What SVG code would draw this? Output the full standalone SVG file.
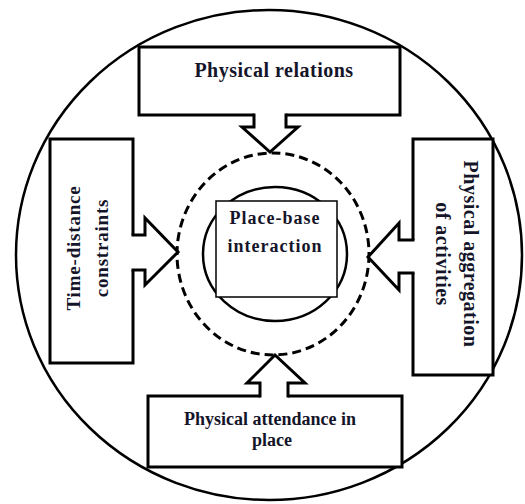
<svg xmlns="http://www.w3.org/2000/svg" width="525" height="504" viewBox="0 0 525 504">
<style>
.ln{fill:none;stroke:#000;stroke-width:2.5}
.box{fill:#fff;stroke:#000;stroke-width:3;stroke-linejoin:miter}
.arr{fill:none;stroke:#000;stroke-width:3;stroke-linejoin:miter;stroke-linecap:square}
.er{fill:#fff;stroke:none}
.t{font-family:"Liberation Serif","Times New Roman",serif;font-weight:bold;fill:#15152a;text-anchor:middle}
</style>
<rect width="525" height="504" fill="#fff"/>
<g id="frame">
<ellipse class="ln" cx="269" cy="255" rx="253" ry="245"/>
<ellipse cx="273" cy="254" rx="96" ry="101" fill="none" stroke="#000" stroke-width="3" stroke-dasharray="9,5"/>
<ellipse class="ln" cx="275" cy="254" rx="72" ry="67"/>
</g>
<g id="center">
<rect x="216" y="201" width="121" height="96" fill="#fff" stroke="#000" stroke-width="1.5"/>
<text class="t" x="275" y="224" font-size="18" letter-spacing="1">Place-base</text>
<text class="t" x="275" y="252" font-size="18" letter-spacing="1">interaction</text>
</g>
<g id="top">
<rect class="box" x="139" y="47" width="261" height="68"/>
<text class="t" x="274" y="77" font-size="20" letter-spacing="0.5">Physical relations</text>
</g>
<g id="left">
<rect class="box" x="50" y="139" width="83" height="224"/>
<text class="t" font-size="19" letter-spacing="0.8" transform="translate(80,248) rotate(-90)">Time-distance</text>
<text class="t" font-size="19" letter-spacing="0.8" transform="translate(108,248) rotate(-90)">constraints</text>
</g>
<g id="right">
<rect class="box" x="413" y="139" width="80" height="236"/>
<text class="t" font-size="20" letter-spacing="0.5" transform="translate(464,254) rotate(90)">Physical aggregation</text>
<text class="t" font-size="20" letter-spacing="0.5" transform="translate(436,254) rotate(90)">of activities</text>
</g>
<g id="bottom">
<rect class="box" x="148" y="396" width="254" height="71"/>
<text class="t" x="270" y="425" font-size="18">Physical attendance in</text>
<text class="t" x="272" y="446" font-size="18">place</text>
</g>
<g id="connectors">
<polygon class="er" points="254,112 286,112 286,127 298,127 270,152 242,127 254,127"/>
<polyline class="arr" points="254,115 254,127 242,127 270,152 298,127 286,127 286,115"/>
<polygon class="er" points="130,235 145,235 145,218 178,252 145,285 145,270 130,270"/>
<polyline class="arr" points="133,235 145,235 145,218 178,252 145,285 145,270 133,270"/>
<polygon class="er" points="416,240 399,240 399,223 368,257 399,290 399,273 416,273"/>
<polyline class="arr" points="413,240 399,240 399,223 368,257 399,290 399,273 413,273"/>
<polygon class="er" points="260,399 260,383 247,383 275,355 305,383 288,383 288,399"/>
<polyline class="arr" points="260,396 260,383 247,383 275,355 305,383 288,383 288,396"/>
</g>
</svg>
